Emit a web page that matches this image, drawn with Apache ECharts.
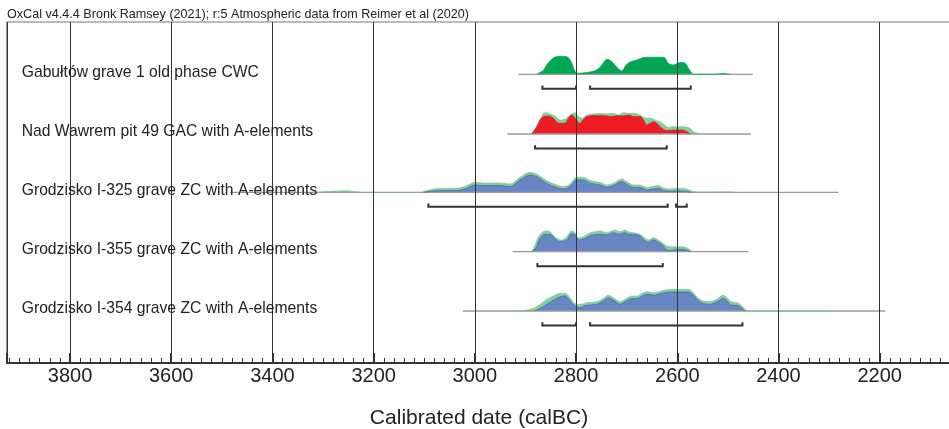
<!DOCTYPE html>
<html><head><meta charset="utf-8">
<script src="https://cdn.jsdelivr.net/npm/echarts@6/dist/echarts.min.js"></script>
<style>html,body{margin:0;padding:0;background:#fff}#c{width:949px;height:429px}</style>
</head><body><div id="c"></div>
<script>
// ---------- data ----------
const titleText = 'OxCal v4.4.4 Bronk Ramsey (2021); r:5 Atmospheric data from Reimer et al (2020)';
const axisTitle = 'Calibrated date (calBC)';
const rowNames = [
  'Gabułtów grave 1 old phase CWC',
  'Nad Wawrem pit 49 GAC with A-elements',
  'Grodzisko I-325 grave ZC with A-elements',
  'Grodzisko I-355 grave ZC with A-elements',
  'Grodzisko I-354 grave ZC with A-elements'
];
// [start, end] of the plotted range (calBC)
const rowBaselines = [[2914, 2450.8], [2935.7, 2454.8], [3484, 2281.6], [2925.2, 2459.4], [3023.9, 2189.3]];
// 95.4% ranges (calBC)
const rowRanges = [
  [[2866.5, 2800], [2772.3, 2573.4]],
  [[2881, 2620.8]],
  [[3091.9, 2618.9], [2602.4, 2581.3]],
  [[2876.4, 2628.7]],
  [[2866.5, 2800], [2772.3, 2471.2]]
];
// unmodelled likelihoods [year, relative height]
const row1Like = [];
const row2Like = [[2890.9,0],[2884.3,2.3],[2874.4,10.7],[2864.6,20.7],[2858,21.3],[2851.4,20],[2841.5,18],[2831.6,14],[2821.7,14.7],[2811.9,19],[2802,21.3],[2795.4,17.3],[2788.8,15.7],[2778.9,19],[2765.7,20],[2752.6,20.7],[2739.4,20],[2726.2,20.7],[2716.3,19],[2706.4,21.3],[2696.6,20.7],[2686.7,20.7],[2673.5,19],[2660.3,15.7],[2650.5,15.7],[2643.9,14],[2634,12.3],[2627.4,10],[2617.5,6.7],[2607.6,7.3],[2587.9,7.3],[2574.7,5.7],[2568.2,2.3],[2555,0]];
const row3Like = [[3310,0],[3295,0.8],[3275,1.2],[3255,1.6],[3240,1],[3225,0],[3105,0],[3101.7,0.7],[3082,3.3],[3062.2,4],[3035.9,4],[3016.1,6.7],[2999.6,10],[2983.2,9.3],[2950.2,9.3],[2930.5,8.3],[2910.7,15],[2890.9,20],[2877.8,18.3],[2858,11.7],[2838.2,7.3],[2825.1,5.7],[2811.9,8.3],[2798.7,15],[2785.5,15],[2772.3,11.7],[2752.6,10],[2739.4,7.3],[2726.2,9],[2709.8,13.3],[2699.9,10.7],[2686.7,7.3],[2673.5,7.3],[2660.3,4.7],[2647.2,6],[2637.3,6.7],[2627.4,4.3],[2614.2,3.3],[2594.5,4],[2581.3,3.3],[2568.1,0.7],[2540,0.3],[2502,0.5],[2480,0]];
const row4Like = [[2887.6,0],[2881,6.7],[2874.4,15],[2864.6,20],[2854.7,20.7],[2848.1,18.3],[2838.2,13.3],[2828.3,11.7],[2818.4,15],[2808.6,20.7],[2802,19],[2795.4,14],[2785.5,15],[2775.6,18.3],[2762.4,20],[2752.6,20.7],[2739.4,19],[2729.5,20.7],[2722.9,21.7],[2713,20],[2703.2,21.7],[2696.6,20],[2686.7,19],[2673.5,17.3],[2666.9,15],[2657.1,11.7],[2647.2,14],[2637.3,11.7],[2627.4,8.3],[2620.8,5.7],[2614.2,5],[2591.2,5],[2581.3,4],[2574.7,1.7],[2568.1,0]];
const row5Like = [[2920,0],[2904.1,0.3],[2884.3,2.7],[2871.1,6.7],[2857.9,11.7],[2844.8,15],[2831.6,17.7],[2821.7,17.7],[2811.8,13.3],[2802,7.3],[2792.1,6.7],[2778.9,8.3],[2759.1,9.3],[2746,12.7],[2736.1,16],[2726.2,13.3],[2713,9.3],[2703.1,11.7],[2689.9,15],[2680.1,15],[2666.9,18.3],[2657,19.3],[2647.1,18.3],[2637.3,19],[2624.1,21],[2607.6,21.7],[2578,21.7],[2568.1,18.3],[2558.2,12.7],[2548.3,10],[2535.1,9.3],[2522,11.7],[2508.8,16],[2498.9,11.7],[2492.3,9],[2482.4,8.3],[2475.8,6.7],[2469.3,3.3],[2462.7,0.7],[2456.1,0.2],[2400,0.3],[2324,0.2],[2300,0]];
// posterior distributions [year, relative height]
const row1Post = [[2877.7,0],[2864.6,4],[2858,9.3],[2848,15],[2841.5,17.2],[2834,17.9],[2822,17.9],[2815,16.5],[2808.6,11],[2802,2.7],[2797,1],[2779,1.7],[2759,4.3],[2749,9.3],[2739,15],[2729.5,12.7],[2719.6,7],[2710,3.3],[2701,9.3],[2693,12.3],[2680,14.3],[2670,16.3],[2657,17],[2640.6,17],[2627,17],[2617.5,11],[2607.6,9.3],[2594.5,11.7],[2584.6,11],[2578,6],[2571,1],[2568,0],[2530,0],[2515,0.5],[2509,1],[2502,0.3],[2495,0]];
const row2Post = [[2887.6,0],[2877.7,7.3],[2871.1,14],[2864.6,17.3],[2854.7,18],[2844.8,15.7],[2834.9,10.7],[2821.7,10.7],[2815.1,15.7],[2808.6,19],[2803.9,17.3],[2797.4,12.3],[2792.1,10.7],[2785.5,14.7],[2778.9,17.3],[2765.7,18.3],[2752.6,18.3],[2739.4,18],[2729.5,17.3],[2719.6,18.3],[2706.4,18],[2696.6,19],[2686.7,17.3],[2673.5,17.3],[2666.9,14],[2660.3,9],[2653.7,10.7],[2647.1,12.3],[2640.6,10.7],[2634,7.3],[2627.4,4.7],[2620.8,3.3],[2604.3,4],[2591.2,4],[2581.3,2.3],[2574.7,0]];
const row3Post = [[3101.7,0],[3082,1.3],[3062.2,1.7],[3035.9,1.7],[3016.1,4],[2999.6,7.3],[2983.2,6.7],[2950.2,6.7],[2930.5,5.7],[2910.7,12.3],[2890.9,17.3],[2877.8,15.7],[2858,9],[2838.2,4.7],[2825.1,3.3],[2811.9,5.7],[2798.7,12.3],[2785.5,12.3],[2772.3,9],[2752.6,7.3],[2739.4,5],[2726.2,6.7],[2709.8,10.7],[2699.9,8],[2686.7,4.7],[2673.5,4.7],[2660.3,2.3],[2647.2,3.3],[2637.3,4],[2627.4,1.7],[2614.2,1],[2594.5,1.3],[2581.3,1],[2571.4,0]];
const row4Post = [[2887.6,0],[2879,4],[2871.1,13.3],[2861.3,17.3],[2851.4,17.3],[2841.5,13.3],[2831.6,10],[2818.4,11.7],[2808.6,18.3],[2802,16.7],[2794.1,11.7],[2782.2,13.3],[2772.3,16],[2752.6,17.3],[2739.4,16.7],[2726.2,19],[2716.3,17.3],[2703.2,19],[2696.6,17.3],[2683.4,17.3],[2673.5,15.7],[2666.9,12.3],[2657.1,9],[2647.2,11.7],[2637.3,9.3],[2627.4,5.7],[2620.8,1.7],[2614.2,1],[2601.1,2.3],[2587.9,2.3],[2578,1],[2574.7,0]];
const row5Post = [[2881,0],[2871.1,2.7],[2857.9,6.7],[2844.8,10.7],[2831.6,14.3],[2821.7,15],[2811.8,10],[2802,5],[2792.1,3.3],[2778.9,5.7],[2759.1,6.7],[2746,10],[2736.1,13.3],[2726.2,10.7],[2713,6.7],[2703.1,9.3],[2689.9,12.3],[2680.1,12.3],[2666.9,15.7],[2657,16.7],[2647.1,15.7],[2637.3,16.7],[2624.1,18.3],[2607.6,19],[2578,19],[2568.1,15.7],[2558.2,10],[2548.3,7.3],[2535.1,6.7],[2522,9],[2508.8,12.7],[2498.9,8.3],[2492.3,5.7],[2482.4,5.7],[2475.8,4],[2469.3,1],[2466,0]];

// ---------- layout / style ----------
const likes = [row1Like, row2Like, row3Like, row4Like, row5Like];
const posts = [row1Post, row2Post, row3Post, row4Post, row5Post];
const postColors = ['#00a651', '#ed1c24', '#6885c4', '#6885c4', '#6885c4'];
const postEdge = ['#00a651', '#d81920', '#4a68ad', '#4a68ad', '#4a68ad'];
const likeColor = '#84cf9c';
const X_MIN = 2000, X_MAX = 3925;
const PX_PER_YEAR = 0.50606;
const GRID_LEFT = 6.75;
const GRID_W = (X_MAX - X_MIN) * PX_PER_YEAR;
const baseY = [74.3, 134, 192.3, 251.7, 311];
const FONT = '"Liberation Sans", Arial, sans-serif';

const grids = [{left: GRID_LEFT, top: 22, width: GRID_W, height: 341, show: true,
  borderColor: '#777', borderWidth: 1, containLabel: false, outerBoundsMode: 'none'}];
const xAxes = [
  {type: 'value', gridIndex: 0, min: X_MIN, max: X_MAX, inverse: true, interval: 200, position: 'bottom', z: 10,
   axisLine: {show: true, lineStyle: {color: '#333', width: 2}},
   axisTick: {show: true, inside: true, length: 10, lineStyle: {color: '#333', width: 2}},
   splitLine: {show: true, lineStyle: {color: '#333', width: 1}},
   axisLabel: {show: true, fontSize: 20, color: '#222', fontFamily: FONT, margin: 3,
     formatter: v => (v % 200 === 0 ? String(v) : '')}},
  {type: 'value', gridIndex: 0, min: X_MIN, max: X_MAX, inverse: true, interval: 20, position: 'bottom', z: 10,
   axisLine: {show: false}, axisLabel: {show: false}, splitLine: {show: false},
   axisTick: {show: true, inside: true, length: 5, lineStyle: {color: '#333', width: 1}}}
];
const yAxes = [{type: 'value', gridIndex: 0, min: 0, max: 1, show: false}];
const series = [{type: 'line', xAxisIndex: 0, yAxisIndex: 0, data: [], silent: true}];

for (let r = 0; r < 5; r++) {
  grids.push({left: GRID_LEFT, top: baseY[r] - 25, width: GRID_W, height: 45, show: false,
    containLabel: false, outerBoundsMode: 'none'});
  xAxes.push({type: 'value', gridIndex: r + 1, min: X_MIN, max: X_MAX, inverse: true, show: false});
  yAxes.push({type: 'value', gridIndex: r + 1, min: -20, max: 25, show: false});
  const xi = r + 2, yi = r + 1;
  series.push({type: 'line', xAxisIndex: xi, yAxisIndex: yi, symbol: 'none', silent: true,
    data: [[rowBaselines[r][0], 0], [rowBaselines[r][1], 0]],
    lineStyle: {color: '#9a9a9a', width: 1.3}});
  if (likes[r].length) {
    series.push({type: 'line', xAxisIndex: xi, yAxisIndex: yi, symbol: 'none', silent: true, smooth: 0.3,
      data: likes[r], lineStyle: {width: 0.6, color: '#74c690'}, areaStyle: {color: likeColor, opacity: 1}});
  }
  series.push({type: 'line', xAxisIndex: xi, yAxisIndex: yi, symbol: 'none', silent: true, smooth: 0.3,
    data: posts[r], lineStyle: {width: 0.8, color: postEdge[r]}, areaStyle: {color: postColors[r], opacity: 1}});
  rowRanges[r].forEach(rg => {
    series.push({type: 'line', xAxisIndex: xi, yAxisIndex: yi, symbol: 'none', silent: true, z: 5,
      data: [[rg[0], -11.3], [rg[0], -14.5], [rg[1], -14.5], [rg[1], -11.3]],
      lineStyle: {color: '#333', width: 2, join: 'miter'}});
  });
}

const graphics = [
  {type: 'text', x: 7, y: 14.5, z: 100, style: {text: titleText, font: '12.6px ' + FONT, fill: '#222',
    verticalAlign: 'middle', textVerticalAlign: 'middle'}},
  {type: 'text', x: 479, y: 418, z: 100, style: {text: axisTitle, font: '21px ' + FONT, fill: '#222',
    align: 'center', textAlign: 'center', verticalAlign: 'middle', textVerticalAlign: 'middle'}}
];
rowNames.forEach((n, r) => {
  graphics.push({type: 'text', x: 21.7, y: baseY[r] - 2, z: 100, style: {text: n, font: '15.7px ' + FONT,
    fill: '#222', verticalAlign: 'middle', textVerticalAlign: 'middle'}});
});

const chart = echarts.init(document.getElementById('c'), null, {renderer: 'canvas'});
chart.setOption({
  animation: false,
  backgroundColor: '#fff',
  grid: grids, xAxis: xAxes, yAxis: yAxes, series: series, graphic: graphics
});
</script></body></html>
